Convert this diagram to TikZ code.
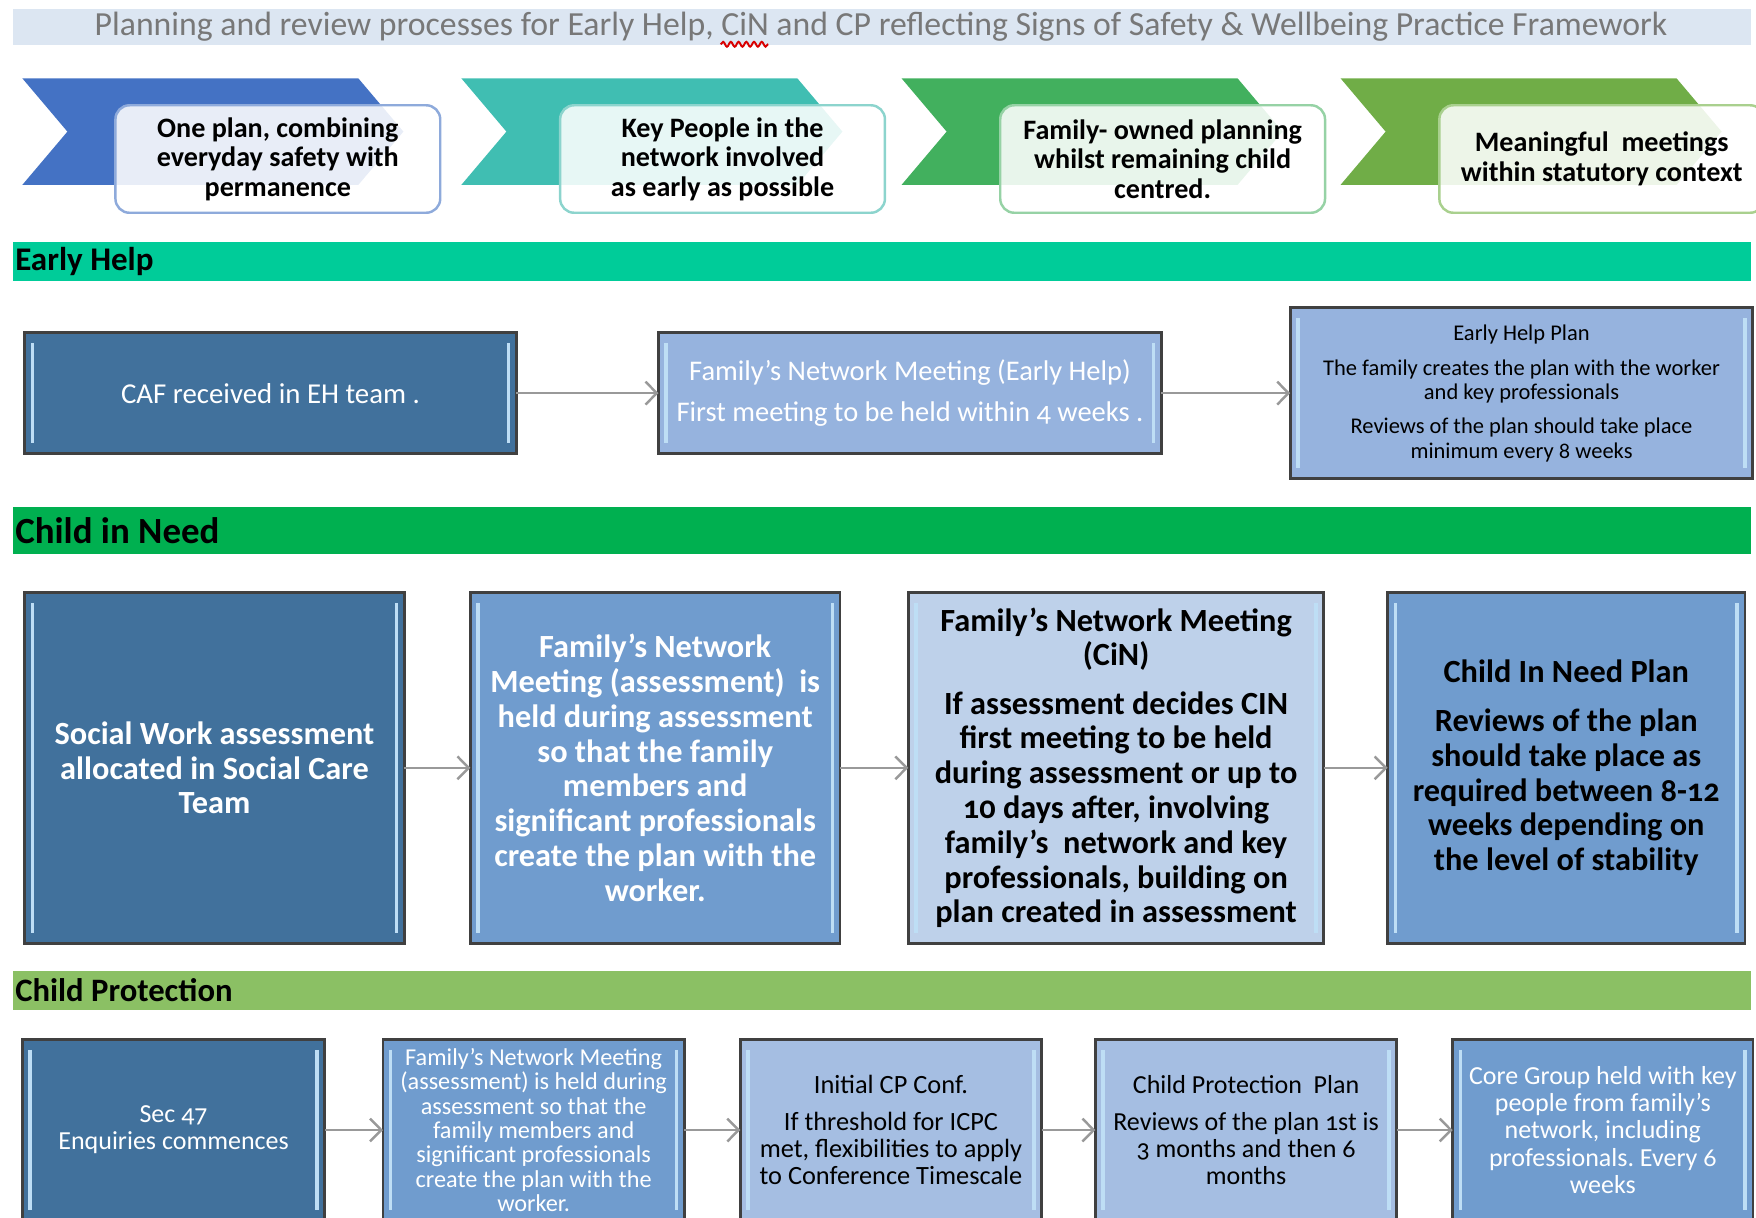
\documentclass[tikz,border=0pt]{standalone}
\usepackage{fontspec}
\setmainfont{Carlito}[Numbers=OldStyle]
\usetikzlibrary{arrows.meta,positioning,decorations.pathmorphing}
\frenchspacing
\definecolor{titleband}{RGB}{220,230,242}
\definecolor{titletext}{RGB}{120,120,120}
\definecolor{ehband}{RGB}{0,204,153}
\definecolor{cinband}{RGB}{0,176,80}
\definecolor{cpband}{RGB}{139,192,100}
\definecolor{darkblue}{RGB}{65,113,156}
\definecolor{midblue}{RGB}{112,156,206}
\definecolor{softblue}{RGB}{150,179,222}
\definecolor{paleblue}{RGB}{190,209,234}
\definecolor{lightblue}{RGB}{165,190,226}
\definecolor{chevA}{RGB}{68,114,196}
\definecolor{chevB}{RGB}{64,190,178}
\definecolor{chevC}{RGB}{66,176,94}
\definecolor{chevD}{RGB}{112,173,71}
\definecolor{keyA}{RGB}{142,170,219}
\definecolor{keyB}{RGB}{140,212,205}
\definecolor{keyC}{RGB}{150,210,165}
\definecolor{keyD}{RGB}{169,208,142}
\definecolor{shine}{RGB}{190,222,245}
\newsavebox\titlepre
\newsavebox\titlecin
\tikzstyle{bevel}=[path picture={
  \draw[shine, line width=1pt] ([xshift=2.2pt,yshift=-3pt]path picture bounding box.north west) -- ([xshift=2.2pt,yshift=3pt]path picture bounding box.south west);
  \draw[shine, line width=1pt] ([xshift=-2.2pt,yshift=-3pt]path picture bounding box.north east) -- ([xshift=-2.2pt,yshift=3pt]path picture bounding box.south east);}]
\tikzstyle{stepbox}=[draw=black!75, line width=0.8pt, rectangle, align=center, inner sep=2pt, outer sep=0pt, bevel]
\tikzstyle{keybox}=[rectangle, rounded corners=4pt, fill=white, fill opacity=0.88, text opacity=1, line width=0.7pt, minimum width=3.248cm, minimum height=1.075cm, align=center, anchor=west, font=\bfseries\fontsize{8}{8.4}\selectfont]
\tikzstyle{bandlabel}=[anchor=west, inner sep=0pt, text=black]
\tikzstyle{flow}=[draw=black!40, line width=0.7pt, ->]
\begin{document}
\sbox\titlepre{\fontsize{9.6}{11}\selectfont Planning and review processes for Early Help, }%
\sbox\titlecin{\fontsize{9.6}{11}\selectfont CiN}%
\begin{tikzpicture}[>={Straight Barb[length=3.2pt,width=6.5pt]}]
  \useasboundingbox (0,0) rectangle (17.56,-12.17);
  % heading
  \fill[titleband] (0.134,-0.09) rectangle (17.51,-0.448);
  \node[text=titletext, inner sep=0pt, font=\fontsize{9.6}{11}\selectfont] (title) at (8.81,-0.27) {Planning and review processes for Early Help, CiN and CP reflecting Signs of Safety \& Wellbeing Practice Framework};
  \draw[red!85!black, line width=0.55pt, decorate, decoration={snake, amplitude=0.7pt, segment length=2.2pt}] ([xshift=\wd\titlepre, yshift=-2.4pt]title.base west) -- ++(\wd\titlecin,0);
  % practice framework chevrons
  \fill[chevA] (0.224,-0.784) -- ++(3.36,0) -- ++(0.45,-0.532) -- ++(-0.45,-0.532) -- ++(-3.36,0) -- ++(0.45,0.532) -- cycle;
  \fill[chevB] (4.614,-0.784) -- ++(3.36,0) -- ++(0.45,-0.532) -- ++(-0.45,-0.532) -- ++(-3.36,0) -- ++(0.45,0.532) -- cycle;
  \fill[chevC] (9.016,-0.784) -- ++(3.36,0) -- ++(0.45,-0.532) -- ++(-0.45,-0.532) -- ++(-3.36,0) -- ++(0.45,0.532) -- cycle;
  \fill[chevD] (13.406,-0.784) -- ++(3.36,0) -- ++(0.45,-0.532) -- ++(-0.45,-0.532) -- ++(-3.36,0) -- ++(0.45,0.532) -- cycle;
  \node[keybox, draw=keyA] (key1) at (1.142,-1.59) {One plan, combining\\everyday safety with\\permanence};
  \node[keybox, draw=keyB] (key2) at (5.589,-1.59) {Key People in the\\network involved\\as early as possible};
  \node[keybox, draw=keyC] (key3) at (9.99,-1.59) {Family- owned planning\\whilst remaining child\\centred.};
  \node[keybox, draw=keyD] (key4) at (14.381,-1.59) {Meaningful~ meetings\\within statutory context};
  % Early Help
  \fill[ehband] (0.134,-2.419) rectangle (17.51,-2.811);
  \node[bandlabel, font=\bfseries\fontsize{9.4}{11}\selectfont] (ehlabel) at (0.146,-2.615) {Early Help};
  \node[stepbox, fill=darkblue, text=white, anchor=west, minimum width=4.917cm, minimum height=1.21cm, font=\fontsize{8.2}{8.6}\selectfont] (eh1) at (0.246,-3.931) {CAF received in EH team .};
  \node[stepbox, fill=softblue, text=white, right=1.422cm of eh1, minimum width=5.029cm, minimum height=1.21cm, font=\fontsize{8.1}{8.5}\selectfont] (eh2) {Family's Network Meeting (Early Help)\\[3pt]First meeting to be held within 4 weeks .};
  \node[stepbox, fill=softblue, right=1.288cm of eh2, minimum width=4.626cm, minimum height=1.714cm, font=\fontsize{6.4}{7}\selectfont] (eh3) {Early Help Plan\\[3pt]The family creates the plan with the worker\\and key professionals\\[2.6pt]Reviews of the plan should take place\\minimum every 8 weeks};
  \draw[flow] (eh1) -- (eh2);
  \draw[flow] (eh2) -- (eh3);
  % Child in Need
  \fill[cinband] (0.134,-5.074) rectangle (17.51,-5.544);
  \node[bandlabel, font=\bfseries\fontsize{10.5}{12}\selectfont] (cinlabel) at (0.146,-5.309) {Child in Need};
  \node[stepbox, fill=darkblue, text=white, anchor=west, minimum width=3.797cm, minimum height=3.506cm, font=\bfseries\fontsize{9.2}{9.9}\selectfont] (cin1) at (0.246,-7.678) {Social Work assessment\\allocated in Social Care\\Team};
  \node[stepbox, fill=midblue, text=white, right=0.661cm of cin1, minimum width=3.696cm, minimum height=3.506cm, font=\bfseries\fontsize{9.2}{9.9}\selectfont] (cin2) {Family's Network\\Meeting (assessment)~ is\\held during assessment\\so that the family\\members and\\significant professionals\\create the plan with the\\worker.};
  \node[stepbox, fill=paleblue, right=0.683cm of cin2, minimum width=4.155cm, minimum height=3.506cm, font=\bfseries\fontsize{9.2}{9.9}\selectfont] (cin3) {Family's Network Meeting\\(CiN)\\[3.8pt]If assessment decides CIN\\first meeting to be held\\during assessment or up to\\10 days after, involving\\family's~ network and key\\professionals, building on\\plan created in assessment};
  \node[stepbox, fill=midblue, right=0.638cm of cin3, minimum width=3.573cm, minimum height=3.506cm, font=\bfseries\fontsize{9.2}{9.9}\selectfont] (cin4) {Child In Need Plan\\[4pt]Reviews of the plan\\should take place as\\required between 8-12\\weeks depending on\\the level of stability};
  \draw[flow] (cin1) -- (cin2);
  \draw[flow] (cin2) -- (cin3);
  \draw[flow] (cin3) -- (cin4);
  % Child Protection
  \fill[cpband] (0.134,-9.71) rectangle (17.51,-10.10);
  \node[bandlabel, font=\bfseries\fontsize{9.3}{11}\selectfont] (cplabel) at (0.146,-9.905) {Child Protection};
  \node[stepbox, fill=darkblue, text=white, anchor=west, minimum width=3.024cm, minimum height=1.814cm, font=\fontsize{7.4}{7.7}\selectfont] (cp1) at (0.224,-11.30) {Sec 47\\Enquiries commences};
  \node[stepbox, fill=midblue, text=white, right=0.582cm of cp1, minimum width=3.013cm, minimum height=1.814cm, font=\fontsize{6.9}{6.95}\selectfont] (cp2) {Family’s Network Meeting\\(assessment) is held during\\assessment so that the\\family members and\\significant professionals\\create the plan with the\\worker.};
  \node[stepbox, fill=lightblue, right=0.56cm of cp2, minimum width=3.013cm, minimum height=1.814cm, font=\fontsize{7.5}{7.7}\selectfont] (cp3) {Initial CP Conf.\\[2.8pt]If threshold for ICPC\\met, flexibilities to apply\\to Conference Timescale};
  \node[stepbox, fill=lightblue, right=0.538cm of cp3, minimum width=3.013cm, minimum height=1.814cm, font=\fontsize{7.4}{7.7}\selectfont] (cp4) {Child Protection~ Plan\\[2.8pt]Reviews of the plan 1st is\\3 months and then 6\\months};
  \node[stepbox, fill=midblue, text=white, right=0.56cm of cp4, minimum width=3.002cm, minimum height=1.814cm, font=\fontsize{7.4}{7.7}\selectfont] (cp5) {Core Group held with key\\people from family's\\network, including\\professionals. Every 6\\weeks};
  \draw[flow] (cp1) -- (cp2);
  \draw[flow] (cp2) -- (cp3);
  \draw[flow] (cp3) -- (cp4);
  \draw[flow] (cp4) -- (cp5);
\end{tikzpicture}
\end{document}
